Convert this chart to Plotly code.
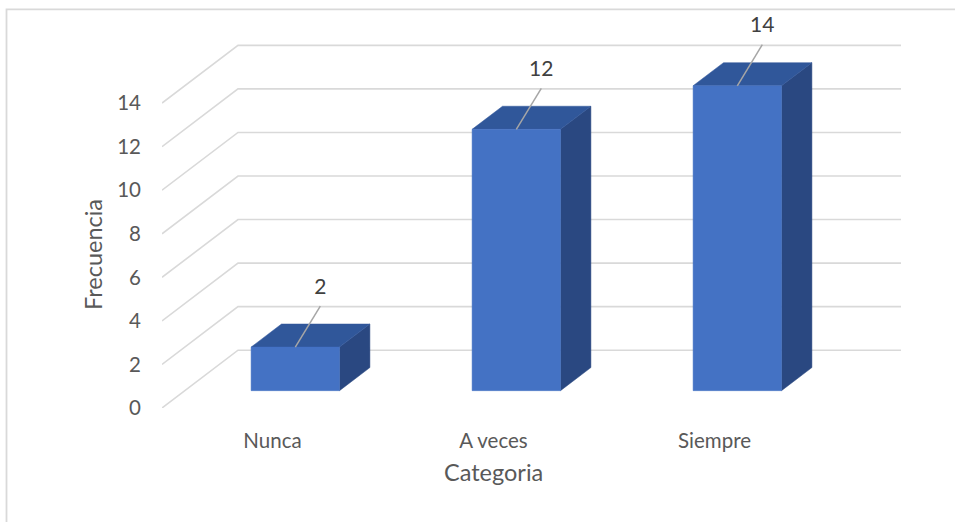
import plotly.graph_objects as go

# Data
categorias = ["Nunca", "A veces", "Siempre"]
frecuencias = [2, 12, 14]
y_ticks = [0, 2, 4, 6, 8, 10, 12, 14]

# Oblique 3D projection parameters (depth offset in axis units)
W, H = 955, 522
L, R, T, B = 162, 54, 16.2, 114.3
PX_CAT = 221.0          # pixels per category unit
PX_VAL = 21.75          # pixels per value unit
DX = 76 / PX_CAT        # horizontal shift of the back wall
DY = 57.7 / PX_VAL      # vertical shift of the back wall
HALF_W = 0.2            # half width of a column
D0, D1 = 0.3, 0.7       # front / back depth of a column

x_min, x_max = -0.5, len(categorias) - 0.5
y_max = (H - T - B) / PX_VAL
PW, PH = W - L - R, H - T - B

FRONT = "#4472C4"
TOP = "#30579A"
SIDE = "#2A4881"
GRID = "#D9D9D9"
FONT = "Lato, Carlito, 'Liberation Sans', sans-serif"


def proj(x, v, d):
    return x + d * DX, v + d * DY


def poly(points):
    xs = [p[0] for p in points] + [points[0][0]]
    ys = [p[1] for p in points] + [points[0][1]]
    return xs, ys


def paper_x(px):
    return (px - L) / PW


def paper_y(py):
    return (H - B - py) / PH


fig = go.Figure()

# Gridlines: diagonal on the side wall + horizontal on the back wall
for v in y_ticks:
    a = proj(x_min, v, 0)
    b = proj(x_min, v, 1)
    c = proj(x_max, v, 1)
    fig.add_trace(go.Scatter(
        x=[a[0], b[0], c[0]], y=[a[1], b[1], c[1]], mode="lines",
        line=dict(color=GRID, width=1.6), hoverinfo="skip", showlegend=False,
    ))

# Columns
for i, (cat, val) in enumerate(zip(categorias, frecuencias)):
    xl, xr = i - HALF_W, i + HALF_W
    side = [proj(xr, 0, D0), proj(xr, 0, D1), proj(xr, val, D1), proj(xr, val, D0)]
    top = [proj(xl, val, D0), proj(xr, val, D0), proj(xr, val, D1), proj(xl, val, D1)]
    front = [proj(xl, 0, D0), proj(xr, 0, D0), proj(xr, val, D0), proj(xl, val, D0)]
    for pts, col in ((side, SIDE), (top, TOP), (front, FRONT)):
        xs, ys = poly(pts)
        fig.add_trace(go.Scatter(
            x=xs, y=ys, mode="lines", fill="toself", fillcolor=col,
            line=dict(color=col, width=0.5), hoverinfo="skip", showlegend=False,
        ))

    # Data label with leader line
    fx, fy = proj(i, val, D0)
    lx, ly = fx + 25 / PX_CAT, fy + 58.5 / PX_VAL
    fig.add_trace(go.Scatter(
        x=[fx, lx], y=[fy, ly - 17.5 / PX_VAL], mode="lines",
        line=dict(color="#A6A6A6", width=1.5), hoverinfo="skip", showlegend=False,
    ))
    fig.add_trace(go.Scatter(
        x=[lx], y=[ly], mode="text", text=[str(val)], textposition="middle center",
        textfont=dict(family=FONT, size=21, color="#404040"),
        hoverinfo="skip", showlegend=False, cliponaxis=False,
    ))

fig.update_layout(
    width=W, height=H,
    margin=dict(l=L, r=R, t=T, b=B),
    paper_bgcolor="white", plot_bgcolor="white",
    font=dict(family=FONT, color="#595959"),
    xaxis=dict(
        range=[x_min, x_max + DX], tickmode="array",
        tickvals=list(range(len(categorias))), ticktext=categorias,
        showgrid=False, zeroline=False, showline=False,
        ticks="", ticklabelstandoff=18,
        tickfont=dict(family=FONT, size=20.5, color="#595959"),
        fixedrange=True,
    ),
    yaxis=dict(
        range=[0, y_max], tickmode="array", tickvals=y_ticks,
        showgrid=False, zeroline=False, showline=False,
        ticks="", ticklabelstandoff=20,
        tickfont=dict(family=FONT, size=20.5, color="#595959"),
        fixedrange=True,
    ),
    annotations=[
        dict(text="Categoria", xref="paper", yref="paper",
             x=paper_x(493), y=paper_y(472), showarrow=False,
             xanchor="center", yanchor="middle",
             font=dict(family=FONT, size=23.5, color="#595959")),
        dict(text="Frecuencia", xref="paper", yref="paper",
             x=paper_x(93), y=paper_y(255), showarrow=False, textangle=-90,
             xanchor="center", yanchor="middle",
             font=dict(family=FONT, size=23.5, color="#595959")),
    ],
    shapes=[dict(
        type="rect", xref="paper", yref="paper",
        x0=paper_x(6.5), x1=paper_x(W + 10),
        y0=paper_y(H + 10), y1=paper_y(9.5),
        line=dict(color=GRID, width=1.8), layer="below",
    )],
)

fig.write_html("out.html")
